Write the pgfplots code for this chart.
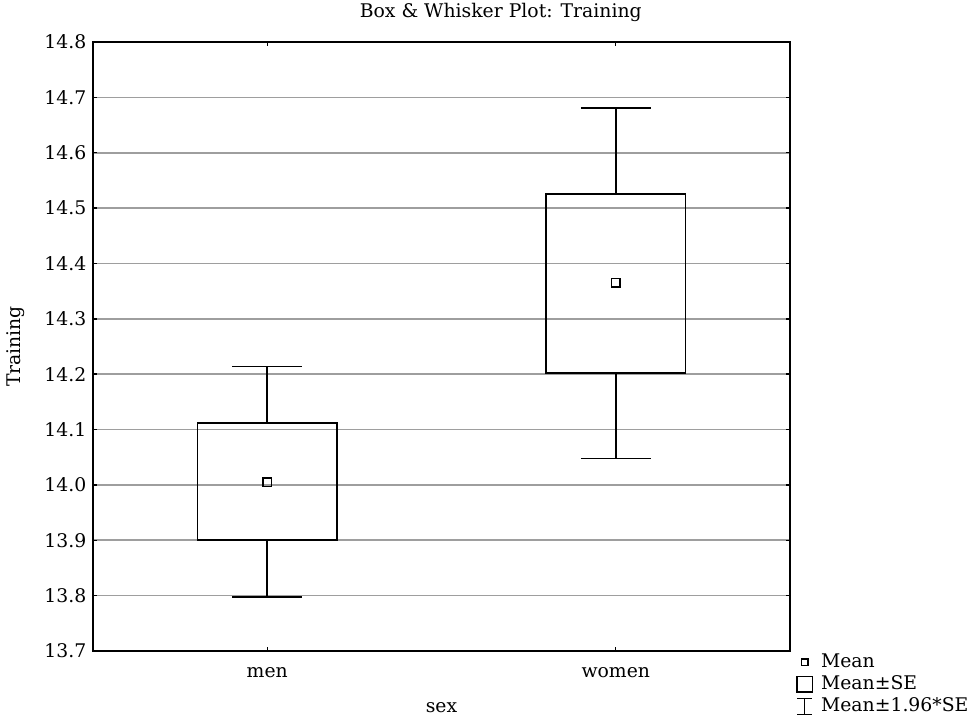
\documentclass[border=0pt]{standalone}
\usepackage{fontspec}
\setmainfont{DejaVu Serif}
\usepackage{pgfplots}
\usepgfplotslibrary{statistics}
\pgfplotsset{compat=1.18}
\definecolor{gridgray}{gray}{0.62}
\begin{document}
\fontsize{9.4pt}{11pt}\selectfont
\begin{tikzpicture}
\begin{axis}[
  scale only axis,
  width=348.5pt, height=304.5pt,
  xmin=0.5, xmax=2.5,
  ymin=13.7, ymax=14.8,
  xtick={1,2}, xticklabels={men,women},
  ytick={13.7,13.8,...,14.85},
  tick align=inside,
  major tick length=2pt,
  tick style={black, line width=0.7pt},
  axis line style={black, line width=0.8pt},
  ymajorgrids,
  major grid style={gridgray, line width=0.8pt},
  xticklabel style={yshift=-5pt},
  yticklabel style={/pgf/number format/.cd, fixed, fixed zerofill, precision=1, assume math mode=true},
  every axis title shift=0pt,
  title={Box \& Whisker Plot: Training},
  title style={at={(axis description cs:0.585,1)}, anchor=center, yshift=15pt},
  xlabel={sex},
  xlabel style={at={(axis description cs:0.5,-0.0936)}, anchor=center},
  ylabel={Training},
  ylabel style={at={(axis description cs:-0.1105,0.5)}, anchor=center},
  legend style={at={(axis description cs:1,0)}, anchor=north west, draw=none, fill=none,
    inner sep=0pt, xshift=3pt, yshift=0pt, row sep=0pt,
    nodes={inner sep=1pt, text height=7pt, text depth=2pt}},
  legend cell align=left,
  boxplot/draw direction=y,
  boxplot/draw/median/.code={},
  clip=false,
]
\addplot[forget plot, black, line width=0.8pt, solid, mark=none,
  boxplot prepared={draw position=1, lower whisker=13.797, lower quartile=13.900,
    median=14.005, upper quartile=14.112, upper whisker=14.214,
    box extend=0.4, whisker extend=0.2}] coordinates {};
\addplot[forget plot, black, line width=0.8pt, solid, mark=none,
  boxplot prepared={draw position=2, lower whisker=14.048, lower quartile=14.202,
    median=14.365, upper quartile=14.525, upper whisker=14.681,
    box extend=0.4, whisker extend=0.2}] coordinates {};
\addplot[forget plot, only marks, mark=square, mark size=2.1pt, mark options={black, line width=0.8pt}]
  coordinates {(1,14.005) (2,14.365)};
\addlegendimage{legend image code/.code={\path[draw=none,fill=none] (0pt,0pt) -- (11pt,0pt); \draw[black, line width=0.7pt] (2.2pt,-1.6pt) rectangle (5.4pt,1.6pt);}}
\addlegendentry{Mean}
\addlegendimage{legend image code/.code={\path[draw=none,fill=none] (0pt,0pt) -- (11pt,0pt); \draw[black, line width=0.7pt] (0pt,-3.8pt) rectangle (7.6pt,3.8pt);}}
\addlegendentry{Mean±SE}
\addlegendimage{legend image code/.code={\path[draw=none,fill=none] (0pt,0pt) -- (11pt,0pt); \draw[black, line width=0.7pt] (0pt,4pt) -- (7.6pt,4pt) (3.8pt,4pt) -- (3.8pt,-4pt) (0pt,-4pt) -- (7.6pt,-4pt);}}
\addlegendentry{Mean±1.96*SE}
\end{axis}
\pgfresetboundingbox
\path[use as bounding box] ([xshift=-46.5pt,yshift=-34.5pt]current axis.south west) rectangle ([xshift=92pt,yshift=21pt]current axis.north east);
\end{tikzpicture}
\end{document}
